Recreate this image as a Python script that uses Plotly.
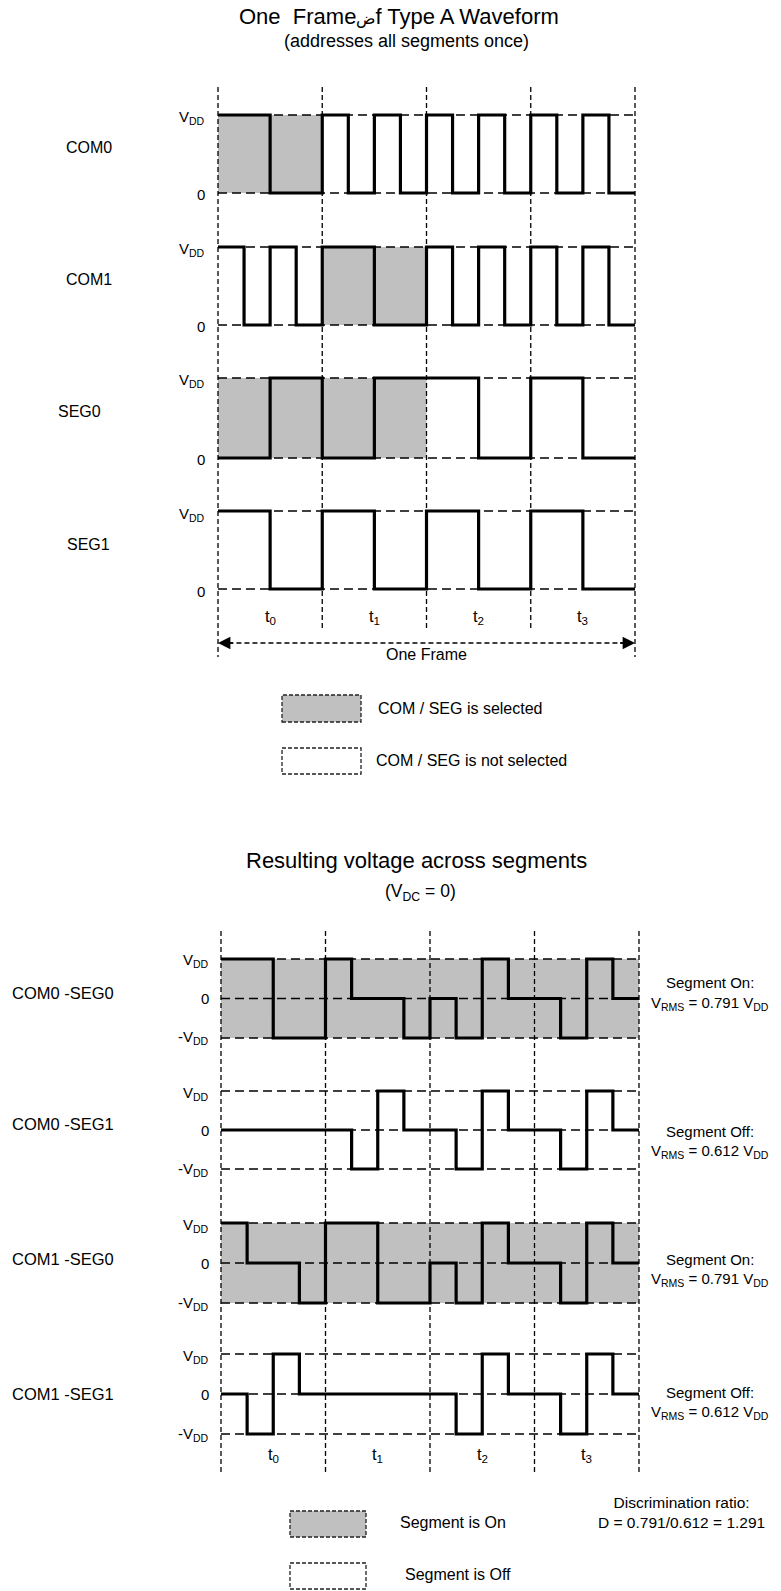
import plotly.graph_objects as go

W, H = 781, 1591
FONT = "Arial, Liberation Sans, sans-serif"

# ---------------- data ----------------
quarters = list(range(17))            # time in quarter-slot units (4 per slot)
slot_labels = ["t<sub>0</sub>", "t<sub>1</sub>", "t<sub>2</sub>", "t<sub>3</sub>"]
slot_centers = [2, 6, 10, 14]
slot_edges = [0, 4, 8, 12, 16]

top_names = ["COM0", "COM1", "SEG0", "SEG1"]
com0 = [1, 1, 0, 0, 1, 0, 1, 0, 1, 0, 1, 0, 1, 0, 1, 0]
com1 = [1, 0, 1, 0, 1, 1, 0, 0, 1, 0, 1, 0, 1, 0, 1, 0]
seg0 = [0, 0, 1, 1, 0, 0, 1, 1, 1, 1, 0, 0, 1, 1, 0, 0]
seg1 = [1, 1, 0, 0, 1, 1, 0, 0, 1, 1, 0, 0, 1, 1, 0, 0]
top_values = [com0, com1, seg0, seg1]
top_selected_slots = [[0], [1], [0, 1], []]
top_ticks = [0, 1]
top_ticktext = ["0", "V<sub>DD</sub>"]

bot_names = ["COM0 -SEG0", "COM0 -SEG1", "COM1 -SEG0", "COM1 -SEG1"]
c0s0 = [1, 1, -1, -1, 1, 0, 0, -1, 0, -1, 1, 0, 0, -1, 1, 0]
c0s1 = [0, 0, 0, 0, 0, -1, 1, 0, 0, -1, 1, 0, 0, -1, 1, 0]
c1s0 = [1, 0, 0, -1, 1, 1, -1, -1, 0, -1, 1, 0, 0, -1, 1, 0]
c1s1 = [0, -1, 1, 0, 0, 0, 0, 0, 0, -1, 1, 0, 0, -1, 1, 0]
bot_values = [c0s0, c0s1, c1s0, c1s1]
bot_on = [True, False, True, False]
bot_ticks = [-1, 0, 1]
bot_ticktext = ["-V<sub>DD</sub>", "0", "V<sub>DD</sub>"]
bot_state = ["Segment On:", "Segment Off:", "Segment On:", "Segment Off:"]
bot_vrms = ["0.791", "0.612", "0.791", "0.612"]
vrms_on, vrms_off, discrimination = "0.791", "0.612", "1.291"

# ---------------- layout geometry (screen pixels) ----------------
top_x_px = (218, 635)
bot_x_px = (221, 639)
top_rows_px = [(115, 193), (247, 325), (378, 458), (511, 589)]        # (VDD, 0)
bot_rows_px = [(959, 1038), (1091, 1169), (1223, 1303), (1354, 1434)]  # (VDD, -VDD)
top_label_pos = [(89, 147), (89, 279), (79, 412), (88, 544)]
bot_label_y = [993, 1124, 1259, 1394]
bot_right_y = [993, 1141, 1269, 1402]


def X(p):
    return p / W


def Y(p):
    return 1 - p / H


def xaxis_cfg(px0, px1, pad=0.6):
    ppu = (px1 - px0) / 16.0
    return dict(domain=[X(px0 - pad * ppu), X(px1 + pad * ppu)],
                range=[-pad, 16 + pad], visible=False, fixedrange=True)


def yaxis_cfg(v_hi, p_hi, v_lo, p_lo, pad=0.15):
    ppu = (p_lo - p_hi) / (v_hi - v_lo)
    return dict(domain=[Y(p_lo + pad * ppu), Y(p_hi - pad * ppu)],
                range=[v_lo - pad, v_hi + pad], visible=False, fixedrange=True)


def text(x, y, t, size, xanchor="center", **kw):
    d = dict(x=x, y=y, text=t, showarrow=False, xanchor=xanchor, yanchor="middle",
             font=dict(size=size, family=FONT, color="black"))
    d.setdefault("xref", "paper")
    d.setdefault("yref", "paper")
    d.update(kw)
    return d


fig = go.Figure()
layout = dict(width=W, height=H, margin=dict(l=0, r=0, t=0, b=0),
              paper_bgcolor="white", plot_bgcolor="rgba(0,0,0,0)",
              showlegend=False, font=dict(family=FONT, color="black", size=15))
layout["xaxis"] = xaxis_cfg(*top_x_px)
layout["xaxis2"] = xaxis_cfg(*bot_x_px)

shapes = []
annotations = []
GRAY = "#c0c0c0"
HDASH = "9px,5px"
VDASH = "5px,3px"

# ---------- top section ----------
for i, (vals, (p_hi, p_lo)) in enumerate(zip(top_values, top_rows_px)):
    yname = "y" if i == 0 else f"y{i + 1}"
    layout["yaxis" if i == 0 else f"yaxis{i + 1}"] = yaxis_cfg(1, p_hi, 0, p_lo)
    for s in top_selected_slots[i]:
        shapes.append(dict(type="rect", xref="x", yref=yname, x0=slot_edges[s], x1=slot_edges[s + 1],
                           y0=0, y1=1, fillcolor=GRAY, line=dict(width=0), layer="below"))
    for tv in top_ticks:
        fig.add_trace(go.Scatter(x=[0, 16], y=[tv, tv], mode="lines", xaxis="x", yaxis=yname,
                                 line=dict(color="black", width=1.4, dash=HDASH), hoverinfo="skip"))
    fig.add_trace(go.Scatter(x=quarters, y=vals + [vals[-1]], mode="lines", xaxis="x", yaxis=yname,
                             line=dict(color="black", width=3.2, shape="hv"), hoverinfo="skip"))
    for tv, tt in zip(top_ticks, top_ticktext):
        annotations.append(text(X(207), tv, tt, 15, xanchor="right", yref=yname,
                                yshift=-3 if tv else -2))
    lx, ly = top_label_pos[i]
    annotations.append(text(X(lx), Y(ly), top_names[i], 16))

for e in slot_edges:
    y1 = 657 if e in (0, 16) else 630
    shapes.append(dict(type="line", xref="x", yref="paper", x0=e, x1=e, y0=Y(87), y1=Y(y1),
                       line=dict(color="black", width=1.3, dash=VDASH), layer="above"))
for c, t in zip(slot_centers, slot_labels):
    annotations.append(text(c, Y(617), t, 16.5, xref="x"))

# One Frame arrow
shapes.append(dict(type="line", xref="x", yref="paper", x0=0.4, x1=15.6, y0=Y(643), y1=Y(643),
                   line=dict(color="black", width=1.3, dash=VDASH)))
for xe, ax in ((0, 18), (16, -18)):
    annotations.append(dict(x=xe, xref="x", y=Y(643), yref="paper", ax=ax, ay=0, text=" ",
                            showarrow=True, arrowhead=2, arrowsize=1.9, arrowwidth=1.3,
                            arrowcolor="black", standoff=0, font=dict(size=10)))
annotations.append(text(8, Y(654), "One Frame", 16, xref="x"))

# titles
annotations.append(text(X(399), Y(17),
                        "One\u00a0 Frame<span style=\"font-size:16px\">\u0636</span>f Type A Waveform", 22))
annotations.append(text(X(406), Y(41), "(addresses all segments once)", 18))

# top legend
for (y0, y1, fill, txt, tx, ty) in ((695, 722, GRAY, "COM / SEG is selected", 376, 708),
                                    (748, 774, "white", "COM / SEG is not selected", 374, 761)):
    shapes.append(dict(type="rect", xref="paper", yref="paper", x0=X(282), x1=X(361),
                       y0=Y(y1), y1=Y(y0), fillcolor=fill,
                       line=dict(color="#222", width=1.3, dash="4px,2px")))
    annotations.append(text(X(tx), Y(ty), txt, 16, xanchor="left"))

# ---------- bottom section ----------
for i, (vals, (p_hi, p_lo)) in enumerate(zip(bot_values, bot_rows_px)):
    k = i + 5
    yname = f"y{k}"
    layout[f"yaxis{k}"] = yaxis_cfg(1, p_hi, -1, p_lo, pad=0.15)
    if bot_on[i]:
        shapes.append(dict(type="rect", xref="x2", yref=yname, x0=0, x1=16, y0=-1, y1=1,
                           fillcolor=GRAY, line=dict(width=0), layer="below"))
    for tv in bot_ticks:
        fig.add_trace(go.Scatter(x=[0, 16], y=[tv, tv], mode="lines", xaxis="x2", yaxis=yname,
                                 line=dict(color="black", width=1.4, dash=HDASH), hoverinfo="skip"))
    fig.add_trace(go.Scatter(x=quarters, y=vals + [vals[-1]], mode="lines", xaxis="x2", yaxis=yname,
                             line=dict(color="black", width=3.2, shape="hv"), hoverinfo="skip"))
    for tv, tt in zip(bot_ticks, bot_ticktext):
        annotations.append(text(X(211), tv, tt, 15, xanchor="right", yref=yname,
                                yshift={1: -2, 0: 0, -1: 0}[tv]))
    annotations.append(text(X(63), Y(bot_label_y[i]), bot_names[i], 16.5))
    annotations.append(text(X(710), Y(bot_right_y[i] - 10), bot_state[i], 15))
    annotations.append(text(X(649), Y(bot_right_y[i] + 10),
                            f"V<sub>RMS</sub> = {bot_vrms[i]} V<sub>DD</sub>", 15, xanchor="left"))

for e in slot_edges:
    shapes.append(dict(type="line", xref="x2", yref="paper", x0=e, x1=e, y0=Y(931), y1=Y(1472),
                       line=dict(color="black", width=1.3, dash=VDASH), layer="above"))
for c, t in zip(slot_centers, slot_labels):
    annotations.append(text(c, Y(1455), t, 16.5, xref="x2"))

annotations.append(text(X(416), Y(860), "Resulting voltage across segments", 22))
annotations.append(text(X(420), Y(893), "(V<sub>DC</sub> = 0)", 17.5))

annotations.append(text(X(681), Y(1512),
                        f"Discrimination ratio:<br>D = {vrms_on}/{vrms_off} = {discrimination}",
                        15.5, align="center"))

for (y0, y1, fill, txt, tx, ty) in ((1511, 1537, GRAY, "Segment is On", 398, 1522),
                                    (1563, 1589, "white", "Segment is Off", 403, 1574)):
    shapes.append(dict(type="rect", xref="paper", yref="paper", x0=X(290), x1=X(366),
                       y0=Y(y1), y1=Y(y0), fillcolor=fill,
                       line=dict(color="#222", width=1.3, dash="4px,2px")))
    annotations.append(text(X(tx), Y(ty), txt, 16, xanchor="left"))

layout["shapes"] = shapes
layout["annotations"] = annotations
fig.update_layout(**layout)
fig.write_html("out.html", config=dict(displayModeBar=False, staticPlot=True),
               post_script="document.body.style.margin='0px';")
